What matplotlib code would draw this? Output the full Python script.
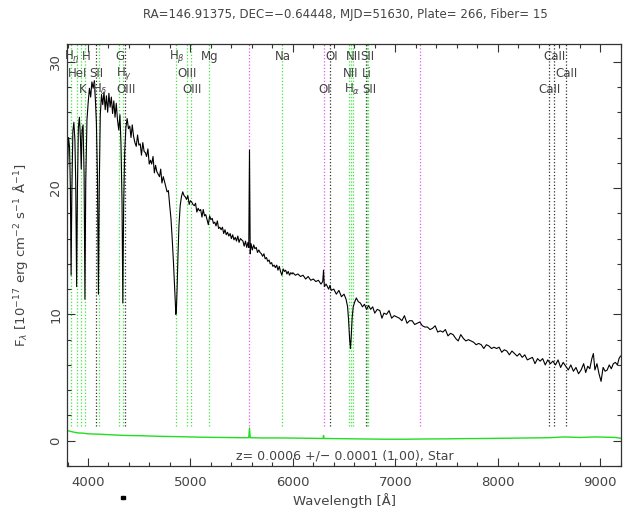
import matplotlib
matplotlib.use("Agg")
import matplotlib.pyplot as plt
from matplotlib.patches import Rectangle
from matplotlib.ticker import MultipleLocator

# object header
title = "RA=146.91375, DEC=\u22120.64448, MJD=51630, Plate= 266, Fiber= 15"
redshift_note = "z= 0.0006 +/\u2212 0.0001 (1.00), Star"
z = 0.0006

# spectrum: wavelength [A] and flux [1e-17 erg/cm2/s/A]
wave = [
    3800, 3810, 3820, 3828, 3835, 3842, 3852, 3862, 3872, 3880,
    3889, 3897, 3906, 3916, 3926, 3934, 3942, 3952, 3962, 3970,
    3978, 3990, 4002, 4014, 4026, 4038, 4050, 4062, 4072, 4082,
    4092, 4102, 4110, 4120, 4132, 4144, 4156, 4168, 4180, 4192,
    4204, 4216, 4228, 4240, 4252, 4264, 4276, 4288, 4300, 4312,
    4322, 4332, 4340, 4348, 4358, 4370, 4382, 4395, 4408, 4420,
    4432, 4445, 4458, 4471, 4484, 4497, 4510, 4522, 4535, 4548,
    4560, 4572, 4585, 4598, 4610, 4622, 4635, 4648, 4660, 4672,
    4685, 4698, 4710, 4722, 4735, 4748, 4760, 4772, 4785, 4798,
    4810, 4822, 4834, 4845, 4852, 4858, 4864, 4870, 4878, 4888,
    4900, 4912, 4925, 4938, 4950, 4962, 4975, 4988, 5000, 5012,
    5025, 5038, 5050, 5063, 5075, 5088, 5100, 5113, 5125, 5138,
    5150, 5163, 5175, 5188, 5200, 5213, 5225, 5238, 5250, 5263,
    5275, 5288, 5300, 5313, 5325, 5338, 5350, 5363, 5375, 5388,
    5400, 5413, 5425, 5438, 5450, 5463, 5475, 5488, 5500, 5513,
    5525, 5538, 5550, 5562, 5570, 5577, 5584, 5592, 5605, 5618,
    5630, 5643, 5655, 5668, 5680, 5693, 5705, 5718, 5730, 5743,
    5755, 5768, 5780, 5793, 5805, 5818, 5830, 5843, 5855, 5868,
    5880, 5893, 5906, 5918, 5930, 5943, 5955, 5968, 5980, 5993,
    6000, 6025, 6050, 6075, 6100, 6125, 6150, 6175, 6200, 6225,
    6250, 6275, 6292, 6300, 6308, 6325, 6350, 6363, 6375, 6400,
    6425, 6450, 6475, 6500, 6520, 6535, 6545, 6555, 6563, 6570,
    6580, 6590, 6605, 6620, 6640, 6660, 6680, 6700, 6720, 6740,
    6760, 6780, 6800, 6825, 6850, 6870, 6890, 6915, 6940, 6965,
    6990, 7015, 7040, 7065, 7090, 7115, 7140, 7165, 7190, 7215,
    7240, 7265, 7290, 7315, 7340, 7365, 7390, 7415, 7440, 7465,
    7490, 7515, 7540, 7565, 7590, 7615, 7640, 7665, 7690, 7715,
    7740, 7765, 7790, 7815, 7840, 7865, 7890, 7915, 7940, 7965,
    7990, 8015, 8040, 8065, 8090, 8115, 8140, 8165, 8190, 8215,
    8240, 8265, 8290, 8315, 8340, 8365, 8390, 8415, 8440, 8465,
    8490, 8515, 8540, 8565, 8590, 8615, 8640, 8665, 8690, 8715,
    8740, 8765, 8790, 8815, 8840, 8860, 8880, 8900, 8920, 8935,
    8950, 8970, 8990, 9010, 9030, 9050, 9070, 9090, 9110, 9130,
    9150, 9170, 9185, 9200,
]
flux = [
    21.5, 24.0, 23.2, 20.0, 13.1, 19.5, 24.5, 25.2, 23.8, 20.5,
    12.2, 20.0, 24.8, 25.6, 24.0, 21.5, 24.6, 25.0, 21.0, 11.2,
    20.5, 25.4, 26.8, 27.9, 27.2, 28.4, 27.9, 28.5, 27.0, 25.2,
    21.0, 11.6, 20.2, 25.8, 27.4, 26.6, 27.6, 26.2, 27.3, 26.0,
    27.5, 26.4, 27.2, 25.9, 26.9, 25.6, 26.7, 25.4, 24.6, 25.8,
    23.5, 19.0, 10.9, 18.5, 22.8, 24.8, 25.5, 24.7, 24.9, 24.0,
    25.0, 24.1, 23.6, 23.3, 24.2, 23.4, 23.5, 22.6, 23.6, 22.9,
    22.8, 22.5, 23.1, 21.9, 22.2, 21.9, 22.5, 21.2, 21.8, 21.3,
    21.1, 20.9, 21.5, 20.4, 20.9, 20.5, 20.1, 19.7, 19.8, 18.6,
    17.6, 16.0, 14.2, 12.2, 10.8, 10.0, 10.6, 12.0, 14.5, 17.0,
    18.6, 19.3, 19.7, 19.4, 19.3, 19.1, 19.4, 18.7, 19.0, 18.9,
    18.7, 18.6, 18.8, 18.1, 18.4, 18.2, 18.3, 17.7, 18.3, 17.8,
    17.9, 17.5, 17.1, 17.8, 17.5, 17.6, 17.2, 17.3, 17.0, 17.4,
    16.8, 16.9, 16.7, 16.9, 16.4, 16.7, 16.3, 16.5, 16.2, 16.4,
    16.0, 16.3, 15.9, 16.1, 15.8, 16.2, 15.7, 16.0, 15.9, 15.8,
    15.4, 15.8, 15.3, 15.7, 15.3, 23.0, 14.8, 15.6, 15.1, 15.5,
    15.2, 15.3, 14.9, 15.1, 14.9, 14.8, 14.6, 14.8, 14.4, 14.5,
    14.2, 14.3, 14.0, 14.1, 13.8, 13.9, 13.7, 13.9, 13.5, 13.8,
    13.4, 13.1, 13.6, 13.4, 13.5, 13.2, 13.4, 13.1, 13.3, 13.2,
    13.3, 13.1, 13.2, 13.0, 13.1, 12.8, 13.0, 12.7, 12.8, 12.6,
    12.7, 12.4, 12.6, 13.5, 12.2, 12.4, 12.0, 12.3, 11.9, 12.0,
    11.6, 11.9, 11.4, 11.6, 11.2, 10.6, 9.5, 8.0, 7.3, 8.2,
    9.8, 10.6, 11.0, 11.3, 11.0, 10.9, 10.6, 10.8, 10.4, 10.7,
    10.4, 10.6, 10.1, 10.4, 10.3, 9.7, 10.1, 10.0, 10.3, 9.7,
    9.9, 9.8, 9.7, 9.5, 9.9, 9.3, 9.5, 9.5, 9.2, 9.3,
    9.4, 9.1, 9.0, 9.0, 8.8, 8.9, 9.1, 8.6, 8.7, 8.6,
    8.8, 8.3, 8.5, 8.4, 8.1, 7.9, 8.4, 8.1, 7.9, 8.0,
    7.9, 7.8, 7.6, 7.7, 7.6, 7.3, 7.6, 7.5, 7.3, 7.4,
    7.3, 7.4, 7.0, 7.2, 7.1, 6.8, 7.1, 6.9, 6.7, 6.9,
    6.6, 6.8, 6.4, 6.5, 6.6, 6.1, 6.5, 6.3, 6.5, 6.0,
    6.4, 6.1, 6.3, 6.0, 6.4, 5.8, 6.2, 5.9, 5.6, 6.0,
    5.5, 5.8, 5.3, 5.6, 6.1, 5.4, 5.9, 5.7, 6.5, 6.9,
    5.6, 6.1, 5.3, 4.7, 5.8, 5.5, 5.6, 6.0, 5.7, 6.1,
    6.2, 6.0, 6.5, 6.7,
]

# 1-sigma error spectrum
err_wave = [3800, 3850, 3900, 3950, 4000, 4100, 4200, 4350, 4500, 4700,
            4900, 5100, 5300, 5500, 5570, 5577, 5584, 5700, 5900, 6100,
            6295, 6300, 6305, 6500, 6700, 6900, 7100, 7300, 7500, 7700,
            7900, 8100, 8300, 8500, 8650, 8800, 8950, 9050, 9150, 9200]
err_flux = [0.80, 0.70, 0.62, 0.60, 0.55, 0.52, 0.48, 0.42, 0.40, 0.35,
            0.32, 0.28, 0.26, 0.24, 0.24, 1.00, 0.24, 0.22, 0.22, 0.20,
            0.18, 0.42, 0.18, 0.16, 0.14, 0.12, 0.12, 0.14, 0.15, 0.17,
            0.18, 0.20, 0.22, 0.24, 0.30, 0.26, 0.30, 0.28, 0.26, 0.20]

# spectral features: rest wavelength, label, label row, colour
line_wave = [3835, 3889, 3934, 3969, 4072, 4102, 4304, 4340, 4363, 4861,
             4959, 5007, 5175, 5894, 6300, 6363, 6548, 6563, 6583, 6708,
             6716, 6731, 8498, 8542, 8662]
line_label = [r"H$_\eta$", "HeI", "K", "H", "SII", r"H$_\delta$", "G",
              r"H$_\gamma$", "OIII", r"H$_\beta$", "OIII", "OIII", "Mg", "Na",
              "OI", "OI", "NII", r"H$_\alpha$", "NII", "Li", "SII", "SII",
              "CaII", "CaII", "CaII"]
line_row = [0, 1, 2, 0, 1, 2, 0, 1, 2, 0,
            1, 2, 0, 0, 2, 0, 1, 2, 0, 1,
            0, 2, 2, 0, 1]
line_color = ["g", "g", "g", "g", "k", "g", "g", "g", "k", "g",
              "g", "g", "g", "g", "m", "k", "g", "g", "g", "k",
              "g", "g", "k", "k", "k"]
sky_wave = [5577, 7245]

colors = {"g": "#3fe83f", "k": "#333333", "m": "#ee55ee"}
text_color = "#444444"

fig = plt.figure(figsize=(6.28, 5.13), dpi=100)
ax = fig.add_axes([0.1067, 0.0916, 0.8822, 0.8226])

ax.set_xlim(3795, 9205)
ax.set_ylim(-2.0, 31.4)

dots = (0, (1, 1.6))
row_y = [30.4, 29.1, 27.8]
for w, lab, r, c in zip(line_wave, line_label, line_row, line_color):
    x = w * (1 + z)
    ax.plot([x, x], [1.2, 31.4], color=colors[c], lw=0.9, ls=dots, zorder=1)
    ax.text(x + 8, row_y[r], lab, ha="center", va="center", fontsize=8.5,
            color=text_color, zorder=3)
for w in sky_wave:
    ax.plot([w, w], [1.2, 31.4], color=colors["m"], lw=0.9, ls=dots, zorder=1)

ax.plot(wave, flux, color="black", lw=0.8, zorder=2)
ax.plot(err_wave, err_flux, color="#22dd22", lw=1.0, zorder=2)

ax.text(0.502, 0.024, redshift_note, transform=ax.transAxes, ha="center",
        va="center", fontsize=9, color=text_color)

ax.xaxis.set_major_locator(MultipleLocator(1000))
ax.xaxis.set_minor_locator(MultipleLocator(200))
ax.yaxis.set_major_locator(MultipleLocator(10))
ax.yaxis.set_minor_locator(MultipleLocator(2))
ax.tick_params(which="both", direction="in", top=True, right=True,
               colors="#333333", labelcolor=text_color, labelsize=9.5)
ax.tick_params(which="major", length=6, width=0.8)
ax.tick_params(which="minor", length=3, width=0.8)
ax.tick_params(axis="x", pad=7)
for lab in ax.get_yticklabels():
    lab.set_rotation(90)
    lab.set_va("center")
for s in ax.spines.values():
    s.set_color("#333333")
    s.set_linewidth(0.9)

ax.set_xlabel("Wavelength [\u00c5]", fontsize=9.5, color=text_color, labelpad=3)
ax.set_ylabel("F$_\\lambda$ [10$^{-17}$ erg cm$^{-2}$ s$^{-1}$ \u00c5$^{-1}$]",
              fontsize=9.5, color=text_color, labelpad=14)

fig.text(0.55, 0.972, title, ha="center", va="center", fontsize=8.5,
         color=text_color)
fig.patches.append(Rectangle((121 / 628, 14 / 513), 4 / 628, 3 / 513,
                             transform=fig.transFigure, color="black"))

fig.savefig("out.png", dpi=100)
